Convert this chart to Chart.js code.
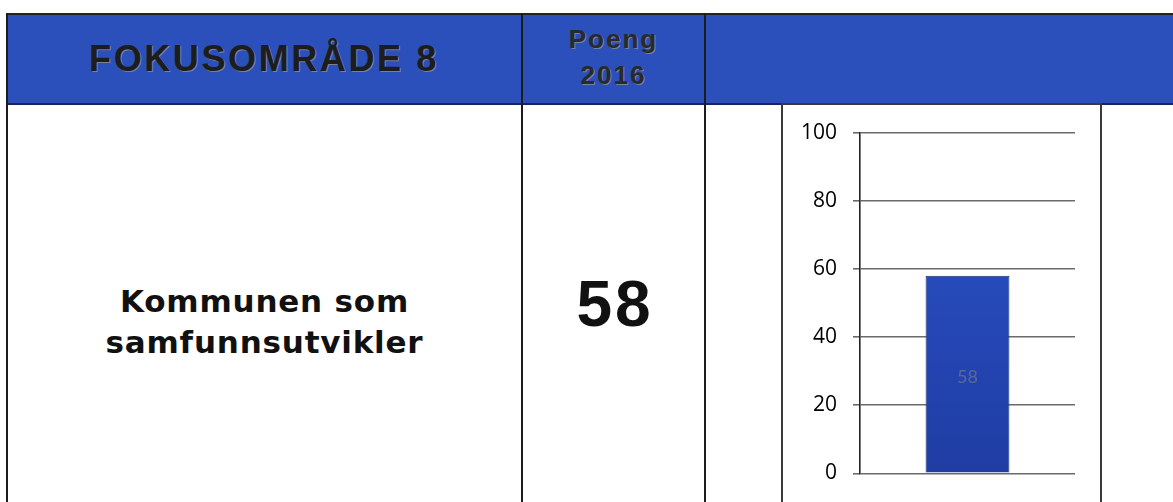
<!DOCTYPE html>
<html>
<head>
<meta charset="utf-8">
<script src="https://cdn.jsdelivr.net/npm/chart.js@4.4.1/dist/chart.umd.min.js"></script>
<style>
  html, body { margin: 0; padding: 0; background: #fff; }
  body { width: 1173px; height: 502px; position: relative; overflow: hidden; }
  .abs { position: absolute; }
  .header { left: 6px; top: 13px; width: 1180px; height: 88px; background: #2b50bc;
            border-top: 2px solid #222; border-bottom: 2px solid #1a2456; }
  .vline { width: 2px; background: #1c1c1c; }
  .htext { font-family: "Liberation Sans", Arial, sans-serif; font-weight: bold; color: #1d1d1d;
           text-shadow: 1px 1px 0 rgba(190,170,120,0.55); white-space: nowrap; text-align: center; }
  .cell { font-family: "DejaVu Sans", Verdana, sans-serif; font-weight: bold; color: #111;
          text-align: center; white-space: nowrap; }
  #box { left: 781px; top: 103px; width: 321px; height: 410px; border: 2px solid #3a3a3a; box-sizing: border-box; }
  #wrap { left: 784px; top: 104px; width: 316px; height: 398px; }
</style>
</head>
<body>
<div class="abs header"></div>
<div class="abs vline" style="left:6px; top:13px; height:500px;"></div>
<div class="abs vline" style="left:521px; top:13px; height:500px;"></div>
<div class="abs vline" style="left:704px; top:13px; height:500px;"></div>

<div class="abs htext" style="left:6px; width:516px; top:39px; font-size:36px; line-height:40px; letter-spacing:2.6px;">FOKUSOMRÅDE 8</div>
<div class="abs htext" style="left:523px; width:181px; top:25px; font-size:26px; line-height:28px; letter-spacing:2px; color:#2a2a2a;">Poeng</div>
<div class="abs htext" style="left:523px; width:181px; top:61px; font-size:26px; line-height:28px; letter-spacing:2px; color:#2a2a2a;">2016</div>

<div class="abs cell" style="left:8px; width:513px; top:281px; font-size:31px; line-height:41px; letter-spacing:0.8px;">Kommunen som<br>samfunnsutvikler</div>
<div class="abs cell" style="left:523px; width:181px; top:269px; font-family:'Liberation Sans', Arial, sans-serif; font-size:64px; line-height:70px; letter-spacing:3px; text-indent:3px;">58</div>

<div class="abs" id="box"></div>
<div class="abs" id="wrap"><canvas id="chart"></canvas></div>

<script>
// values
const categories = ['Poeng 2016'];
const scores = [58];
const yTicks = [0, 20, 40, 60, 80, 100];

const barLabels = {
    id: 'barLabels',
    afterDatasetsDraw(chart) {
        const ctx = chart.ctx;
        const meta = chart.getDatasetMeta(0);
        ctx.save();
        ctx.font = '18px Lato, "Open Sans", sans-serif';
        ctx.fillStyle = '#5b6896';
        ctx.textAlign = 'center';
        ctx.textBaseline = 'middle';
        meta.data.forEach((bar, i) => {
            ctx.fillText(String(scores[i]), bar.x, (bar.y + bar.base) / 2 + 3);
        });
        ctx.restore();
    }
};

function barFill(context) {
    const chart = context.chart;
    const area = chart.chartArea;
    if (!area) return '#2447b0';
    const g = chart.ctx.createLinearGradient(0, area.top, 0, area.bottom);
    g.addColorStop(0, '#2c55c6');
    g.addColorStop(0.6, '#2446b4');
    g.addColorStop(1, '#1f3da2');
    return g;
}

new Chart(document.getElementById('chart'), {
    type: 'bar',
    data: {
        labels: categories,
        datasets: [{
            data: scores,
            backgroundColor: barFill,
            borderColor: '#172f74',
            borderWidth: 1,
            barPercentage: 0.39,
            categoryPercentage: 1
        }]
    },
    options: {
        responsive: true,
        maintainAspectRatio: false,
        animation: false,
        layout: { padding: { top: 28, right: 25, bottom: 24, left: 0 } },
        plugins: { legend: { display: false }, tooltip: { enabled: false } },
        scales: {
            x: { display: false },
            y: {
                min: 0,
                max: 100,
                afterBuildTicks: (scale) => { scale.ticks = yTicks.map(v => ({ value: v })); },
                afterFit: (scale) => { scale.width = 76; },
                ticks: {
                    padding: 16,
                    color: '#000',
                    font: { family: '"Open Sans", Lato, sans-serif', size: 21 }
                },
                grid: { color: '#6a6a6a', lineWidth: 1.6, tickLength: 7, tickColor: '#6a6a6a' },
                border: { color: '#222', width: 1.6 }
            }
        }
    },
    plugins: [barLabels]
});
</script>
</body>
</html>
